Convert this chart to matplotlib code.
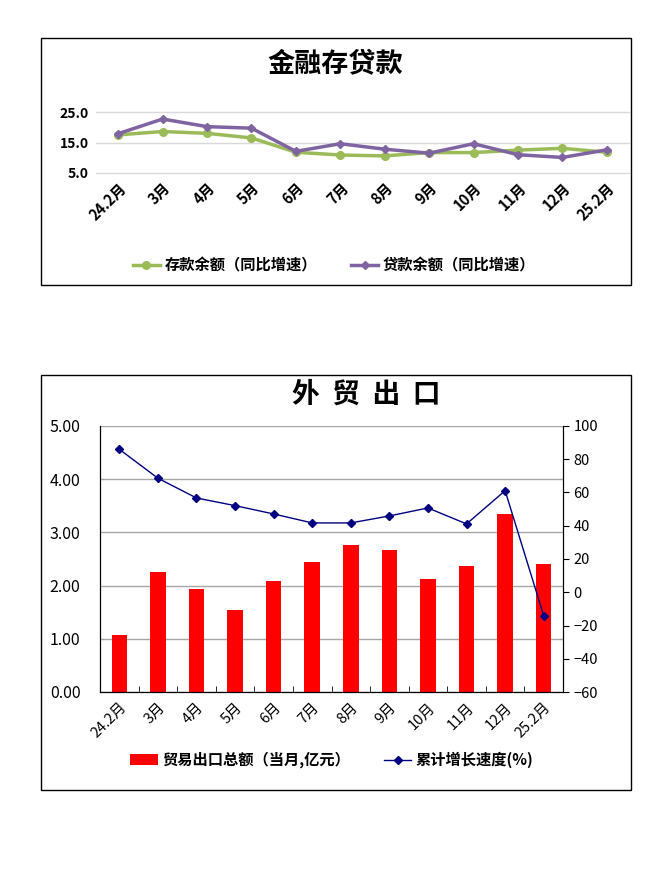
import matplotlib.pyplot as plt
from matplotlib.patches import Rectangle

plt.rcParams['font.family'] = ['Noto Sans CJK SC', 'DejaVu Sans']

months = ['24.2月', '3月', '4月', '5月', '6月', '7月', '8月', '9月', '10月', '11月', '12月', '25.2月']
deposit = [17.5, 18.6, 18.0, 16.5, 11.8, 10.9, 10.6, 11.7, 11.7, 12.5, 13.1, 11.8]
loan = [17.9, 22.7, 20.2, 19.7, 12.1, 14.6, 12.8, 11.5, 14.6, 11.0, 10.1, 12.6]
export_amt = [1.07, 2.25, 1.94, 1.54, 2.08, 2.44, 2.76, 2.67, 2.12, 2.37, 3.34, 2.40]
export_growth = [86.0, 68.6, 56.7, 52.1, 47.1, 41.7, 41.7, 45.9, 50.7, 41.1, 61.1, -14.1]

W, H = 670, 877
fig = plt.figure(figsize=(W / 100, H / 100), dpi=100)


def box(x0, y0, x1, y1):
    fig.add_artist(Rectangle((x0 / W, 1 - y1 / H), (x1 - x0) / W, (y1 - y0) / H,
                             transform=fig.transFigure, fill=False, edgecolor='black', lw=1))


def axes_px(x0, y0, x1, y1):
    return fig.add_axes([x0 / W, 1 - y1 / H, (x1 - x0) / W, (y1 - y0) / H])


# ---- 金融存贷款 ----
box(41, 38, 631, 285)
fig.text(335 / W, 1 - 64 / H, '金融存贷款', ha='center', va='center', fontsize=19.5, fontweight='bold')

ax1 = axes_px(96, 112, 629, 173)
x = range(len(months))
ax1.plot(x, deposit, color='#9BBB59', lw=2.5, marker='o', ms=5.5, label='存款余额（同比增速）')
ax1.plot(x, loan, color='#8064A2', lw=2.5, marker='D', ms=4.5, label='贷款余额（同比增速）')
ax1.set_xlim(-0.5, len(months) - 0.5)
ax1.set_ylim(5, 25)
ax1.set_yticks([5, 15, 25])
ax1.set_yticklabels(['%.1f' % v for v in [5, 15, 25]], fontsize=10, fontweight='bold')
ax1.set_xticks(list(x))
ax1.set_xticklabels(months, rotation=45, ha='right', rotation_mode='anchor', fontsize=10.5, fontweight='bold')
ax1.tick_params(length=0, pad=5)
ax1.grid(axis='y', color='#D9D9D9', lw=1)
for g in ax1.get_ygridlines():
    g.set_clip_on(False)
for s in ax1.spines.values():
    s.set_visible(False)
ax1.set_axisbelow(True)

h1, l1 = ax1.get_legend_handles_labels()
fig.legend(h1, l1, loc='center', bbox_to_anchor=(334 / W, 1 - 265 / H), ncol=2, frameon=False,
           prop={'size': 11, 'weight': 'bold'}, handlelength=1.8, handletextpad=0.3, columnspacing=2.2)

# ---- 外贸出口 ----
box(41, 375, 631, 790)
fig.text(366 / W, 1 - 395 / H, '外  贸  出  口', ha='center', va='center', fontsize=20, fontweight='bold')

ax2 = axes_px(100, 426, 563, 692)
ax2.bar(x, export_amt, width=0.4, color='#FF0000', label='贸易出口总额（当月,亿元）', zorder=2)
ax2.set_xlim(-0.5, len(months) - 0.5)
ax2.set_ylim(0, 5)
ax2.set_yticks([0, 1, 2, 3, 4, 5])
ax2.set_yticklabels(['%.2f' % v for v in [0, 1, 2, 3, 4, 5]], fontsize=11.5)
ax2.grid(axis='y', color='#A6A6A6', lw=1, zorder=0)
ax2.set_axisbelow(True)
ax2.set_xticks(list(x))
ax2.set_xticklabels(months, rotation=45, ha='right', rotation_mode='anchor', fontsize=10.5)
ax2.set_xticks([i + 0.5 for i in range(len(months) - 1)], minor=True)
ax2.tick_params(axis='x', which='major', length=0, pad=6)
ax2.tick_params(axis='x', which='minor', length=4, direction='in')
ax2.tick_params(axis='y', length=0, pad=14)
ax2.spines['top'].set_visible(False)

ax3 = ax2.twinx()
ax3.plot(x, export_growth, color='#000080', lw=1, marker='D', ms=4.5, label='累计增长速度(%)')
ax3.set_ylim(-60, 100)
ax3.set_yticks(range(-60, 101, 20))
ax3.tick_params(axis='y', labelsize=10.5, length=4, direction='out')
ax3.spines['top'].set_visible(False)

h2, l2 = ax2.get_legend_handles_labels()
h3, l3 = ax3.get_legend_handles_labels()
fig.legend(h2 + h3, l2 + l3, loc='center', bbox_to_anchor=(332 / W, 1 - 760 / H), ncol=2, frameon=False,
           prop={'size': 11, 'weight': 'bold'}, handlelength=1.8, handletextpad=0.3, columnspacing=2.2)

fig.savefig('out.png', dpi=100)
